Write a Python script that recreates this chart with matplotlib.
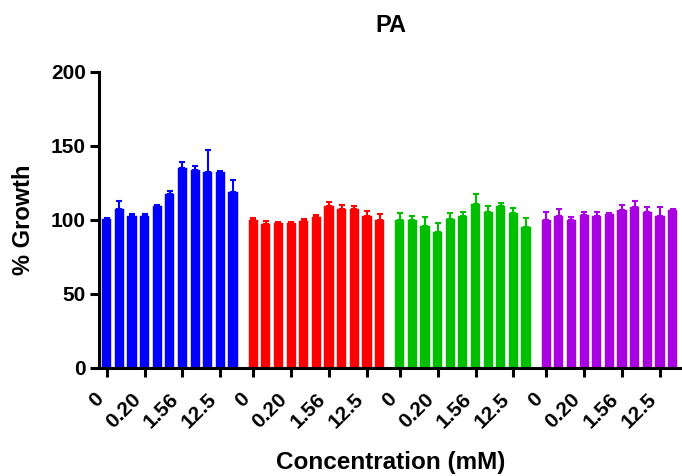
import matplotlib
matplotlib.use("Agg")
import matplotlib.pyplot as plt
import matplotlib.transforms as mtransforms
import numpy as np

plt.rcParams['font.family'] = ['Liberation Sans', 'DejaVu Sans']
plt.rcParams['font.weight'] = 'bold'

concentrations = ['0', '0.05', '0.10', '0.20', '0.39', '0.78', '1.56', '3.13', '6.25', '12.5', '25']
tick_every = 3

blue_vals = [100.5, 107.2, 102.9, 102.7, 109.5, 117.3, 135.1, 133.6, 132.4, 132.4, 118.7]
blue_err = [1.0, 5.8, 0.8, 1.0, 0.6, 2.3, 3.9, 3.1, 15.1, 0.5, 8.1]
red_vals = [100.0, 97.3, 98.2, 98.2, 99.5, 102.0, 109.5, 107.4, 107.4, 102.9, 100.2]
red_err = [1.6, 2.2, 0.6, 0.7, 0.9, 1.6, 2.9, 2.5, 2.3, 3.0, 3.8]
green_vals = [100.0, 100.0, 95.9, 91.9, 100.5, 102.7, 110.8, 105.6, 109.7, 104.9, 95.3]
green_err = [4.5, 2.9, 6.4, 6.3, 4.0, 2.9, 6.5, 4.1, 2.0, 3.0, 5.8]
purple_vals = [100.2, 102.7, 100.2, 103.4, 102.7, 104.3, 106.8, 108.8, 105.2, 102.5, 106.8]
purple_err = [5.0, 5.0, 2.1, 1.8, 2.9, 0.4, 3.1, 4.2, 3.8, 6.5, 0.4]

series = [
    (blue_vals, blue_err, '#0000FF'),
    (red_vals, red_err, '#FF0000'),
    (green_vals, green_err, '#00BE00'),
    (purple_vals, purple_err, '#A800E0'),
]

fig = plt.figure(figsize=(6.82, 4.76), dpi=100)
ax = fig.add_axes([0.145, 0.227, 0.855, 0.622])

group_step = 11.6
n = len(concentrations)
tick_pos = []
tick_lab = []
for g, (vals, errs, col) in enumerate(series):
    x = g * group_step + np.arange(n)
    ax.bar(x, vals, width=0.73, color=col, edgecolor=col, linewidth=0.3, zorder=2)
    ax.errorbar(x, vals, yerr=[np.zeros(n), errs], fmt='none', ecolor=col,
                elinewidth=1.5, capsize=2.5, capthick=1.5, zorder=3)
    for i in range(0, n, tick_every):
        tick_pos.append(g * group_step + i)
        tick_lab.append(concentrations[i])

ax.set_xlim(-0.62, 3 * group_step + n - 1 + 0.75)
ax.set_ylim(0, 200)
ax.set_yticks([0, 50, 100, 150, 200])
ax.set_xticks(tick_pos)
ax.set_xticklabels(tick_lab, rotation=45, ha='right', va='top', fontsize=15, fontweight='bold')
offset = mtransforms.ScaledTranslation(7 / 100, 0, fig.dpi_scale_trans)
for lab in ax.get_xticklabels():
    lab.set_transform(lab.get_transform() + offset)
for lab in ax.get_yticklabels():
    lab.set_fontsize(15)
    lab.set_fontweight('bold')

for s in ['top', 'right']:
    ax.spines[s].set_visible(False)
for s in ['left', 'bottom']:
    ax.spines[s].set_linewidth(2.2)
ax.tick_params(axis='both', width=2.2, length=6.5, direction='out')
ax.tick_params(axis='x', pad=9)
ax.tick_params(axis='y', pad=3)

ax.set_title('PA', fontsize=17, fontweight='bold', pad=29)
ax.set_ylabel('% Growth', fontsize=17, fontweight='bold', labelpad=11)
ax.set_xlabel('Concentration (mM)', fontsize=17.5, fontweight='bold', labelpad=14)

fig.savefig('out.png', dpi=100)
